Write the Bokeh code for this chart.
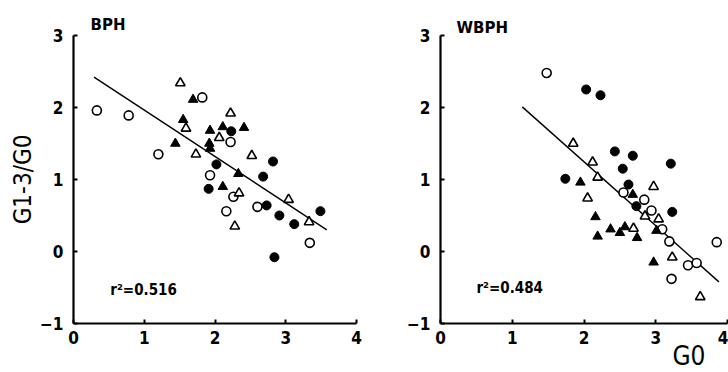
from bokeh.plotting import figure
from bokeh.layouts import row
from bokeh.models import Label, FixedTicker, Range1d, Title
from bokeh.embed import file_html
from bokeh.resources import INLINE

# ---------------- data ----------------
# BPH panel
bph_open_circle_x = [0.33, 0.78, 1.20, 1.82, 1.93, 2.22, 2.26, 2.16, 2.60, 3.34]
bph_open_circle_y = [1.96, 1.89, 1.35, 2.14, 1.06, 1.52, 0.76, 0.56, 0.62, 0.12]
bph_filled_circle_x = [1.91, 2.02, 2.23, 2.68, 2.82, 2.73, 2.91, 3.12, 3.49, 2.84]
bph_filled_circle_y = [0.87, 1.21, 1.67, 1.04, 1.25, 0.64, 0.50, 0.38, 0.56, -0.08]
bph_filled_tri_x = [1.44, 1.69, 1.55, 1.93, 1.92, 1.93, 2.11, 2.41, 2.11, 2.33]
bph_filled_tri_y = [1.50, 2.11, 1.83, 1.68, 1.50, 1.43, 1.73, 1.72, 0.90, 1.08]
bph_open_tri_x = [1.51, 1.59, 1.73, 2.06, 2.22, 2.52, 2.34, 2.28, 3.04, 3.33]
bph_open_tri_y = [2.34, 1.71, 1.35, 1.58, 1.92, 1.33, 0.81, 0.35, 0.72, 0.41]
bph_fit_intercept = 2.61
bph_fit_slope = -0.645
bph_fit_x = [0.29, 3.58]
bph_r2 = "0.516"

# WBPH panel
wbph_open_circle_x = [1.48, 2.55, 2.84, 2.94, 3.09, 3.19, 3.45, 3.57, 3.22, 3.85]
wbph_open_circle_y = [2.48, 0.82, 0.72, 0.57, 0.31, 0.14, -0.19, -0.16, -0.38, 0.13]
wbph_filled_circle_x = [2.03, 2.23, 1.74, 2.43, 2.54, 2.68, 2.62, 2.73, 3.21, 3.23]
wbph_filled_circle_y = [2.25, 2.17, 1.01, 1.39, 1.15, 1.33, 0.93, 0.63, 1.22, 0.55]
wbph_filled_tri_x = [1.95, 2.16, 2.19, 2.37, 2.50, 2.57, 2.68, 2.74, 3.01, 2.97]
wbph_filled_tri_y = [0.96, 0.48, 0.21, 0.31, 0.26, 0.34, 0.79, 0.19, 0.29, -0.15]
wbph_open_tri_x = [1.85, 2.12, 2.19, 2.05, 2.97, 2.85, 3.04, 2.69, 3.23, 3.62]
wbph_open_tri_y = [1.50, 1.24, 1.03, 0.74, 0.90, 0.49, 0.45, 0.32, -0.08, -0.63]
wbph_fit_intercept = 3.02
wbph_fit_slope = -0.887
wbph_fit_x = [1.14, 3.88]
wbph_r2 = "0.484"

x_ticks = [0, 1, 2, 3, 4]
y_ticks = [-1, 0, 1, 2, 3]

COND = "DejaVu Sans Condensed"


def make_panel(width, border_left, border_right, name, title_offset,
               title_standoff, oc, fc, ft, ot, icpt, slope, fx, r2, r2_x,
               r2_y, ylabel=None):
    p = figure(width=width, height=372, output_backend="svg",
               toolbar_location=None, x_range=Range1d(0, 4),
               y_range=Range1d(-1, 3), min_border_left=border_left,
               min_border_right=border_right, min_border_top=35,
               min_border_bottom=49)
    p.outline_line_color = None
    p.xgrid.visible = False
    p.ygrid.visible = False
    p.background_fill_color = "white"
    p.border_fill_color = "white"

    p.title.text = name
    p.title.align = "left"
    p.title.offset = title_offset
    p.title.standoff = title_standoff
    p.title.text_font = "DejaVu Sans"
    p.title.text_font_style = "bold"
    p.title.text_font_size = "15px"
    p.title.text_color = "black"

    for ax, ticks in ((p.xaxis, x_ticks), (p.yaxis, y_ticks)):
        ax.ticker = FixedTicker(ticks=ticks)
        ax.axis_line_width = 2.2
        ax.axis_line_color = "black"
        ax.major_tick_line_width = 2
        ax.major_tick_line_color = "black"
        ax.major_tick_in = 4
        ax.major_tick_out = 0
        ax.minor_tick_line_color = None
        ax.major_label_text_font = COND
        ax.major_label_text_font_style = "bold"
        ax.major_label_text_font_size = "17px"
        ax.major_label_text_color = "black"
    p.xaxis.major_label_standoff = 7
    p.yaxis.major_label_standoff = 10

    if ylabel:
        p.yaxis.axis_label = ylabel
        p.yaxis.axis_label_text_font = COND
        p.yaxis.axis_label_text_font_style = "normal"
        p.yaxis.axis_label_text_font_size = "24px"
        p.yaxis.axis_label_text_color = "black"
        p.yaxis.axis_label_standoff = 0

    # regression line
    fy = [icpt + slope * v for v in fx]
    p.line(fx, fy, line_color="black", line_width=1.4)

    p.scatter(oc[0], oc[1], marker="circle", size=9, fill_color="white",
              line_color="black", line_width=1.6)
    p.scatter(fc[0], fc[1], marker="circle", size=9, fill_color="black",
              line_color="black", line_width=1)
    p.scatter(ft[0], ft[1], marker="triangle", size=9.5, fill_color="black",
              line_color="black", line_width=1)
    p.scatter(ot[0], ot[1], marker="triangle", size=9.5, fill_color="white",
              line_color="black", line_width=1.6)

    p.add_layout(Label(x=r2_x, y=r2_y, text="r\u00b2=" + r2, text_font=COND,
                       text_font_style="bold", text_font_size="15px",
                       text_color="black", text_baseline="alphabetic"))
    return p


left = make_panel(380, 73, 24, "BPH", 17, 3,
                  (bph_open_circle_x, bph_open_circle_y),
                  (bph_filled_circle_x, bph_filled_circle_y),
                  (bph_filled_tri_x, bph_filled_tri_y),
                  (bph_open_tri_x, bph_open_tri_y),
                  bph_fit_intercept, bph_fit_slope, bph_fit_x, bph_r2,
                  0.52, -0.53, ylabel="G1-3/G0")

right = make_panel(348, 60, 1, "WBPH", 16, -3,
                   (wbph_open_circle_x, wbph_open_circle_y),
                   (wbph_filled_circle_x, wbph_filled_circle_y),
                   (wbph_filled_tri_x, wbph_filled_tri_y),
                   (wbph_open_tri_x, wbph_open_tri_y),
                   wbph_fit_intercept, wbph_fit_slope, wbph_fit_x, wbph_r2,
                   0.50, -0.51)
# shared x-axis name, below the right panel's tick labels (cut by the edge)
right.add_layout(Title(text="G0", align="right", offset=22,
                       vertical_align="top", standoff=-12, text_font=COND,
                       text_font_style="normal", text_font_size="26px",
                       text_color="black"), "below")

layout = row(left, right)
open("out.html", "w").write(file_html(layout, INLINE))
